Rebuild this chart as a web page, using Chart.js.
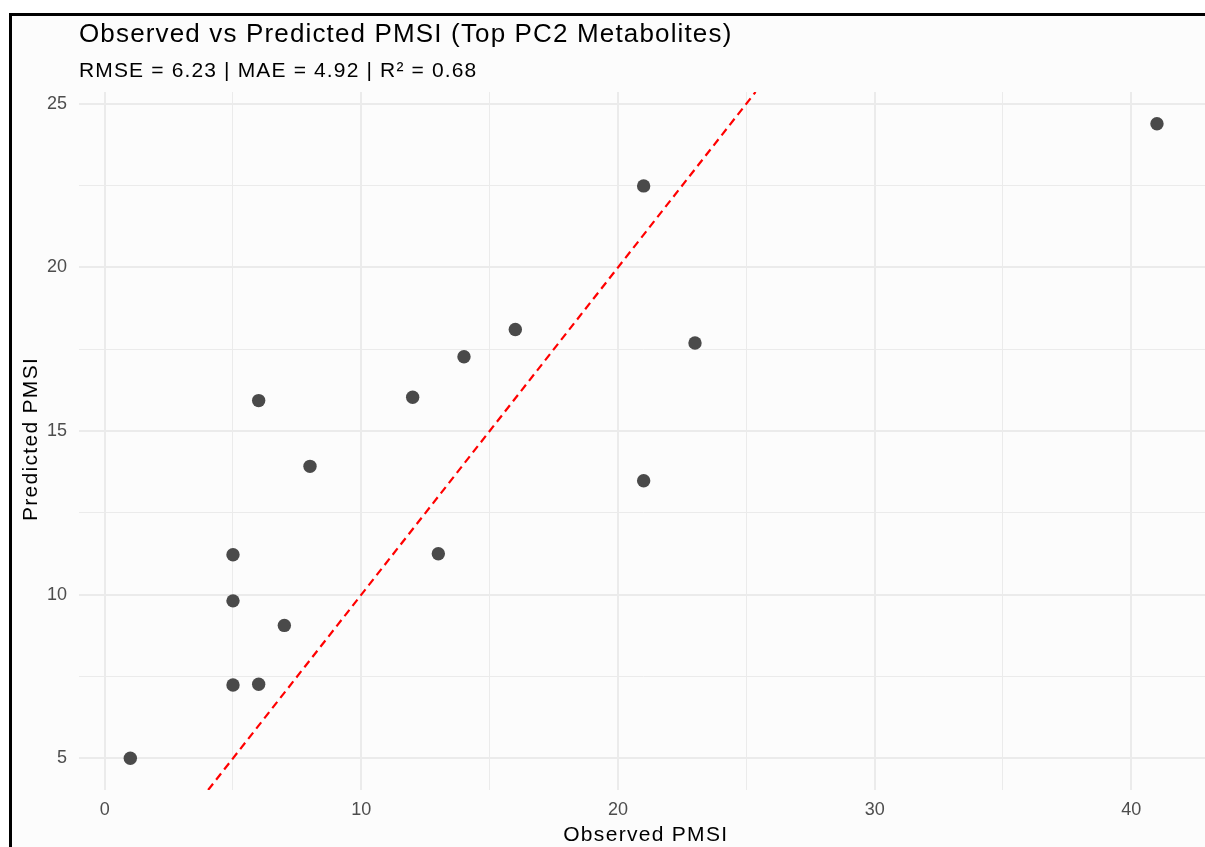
<!DOCTYPE html>
<html>
<head>
<meta charset="utf-8">
<script src="https://cdn.jsdelivr.net/npm/chart.js@4.4.1/dist/chart.umd.min.js"></script>
<style>
  html, body { margin: 0; padding: 0; background: #ffffff; overflow: hidden; }
  body { width: 1205px; height: 847px; position: relative; font-family: "Liberation Sans", Arial, sans-serif; }
  .frame { position: absolute; left: 9px; top: 13px; right: -10px; bottom: -10px; background: #fcfcfc;
           border-top: 3px solid #000; border-left: 3px solid #000; }
  #chart { position: absolute; left: 0; top: 0; }
  .title { position: absolute; left: 79px; top: 20px; font-size: 26px; line-height: 1; color: #000;
           white-space: nowrap; letter-spacing: 1.15px; }
  .subtitle { position: absolute; left: 79px; top: 59px; font-size: 21px; line-height: 1; color: #000;
              white-space: nowrap; letter-spacing: 1.15px; }
  .xtitle { position: absolute; left: 79px; width: 1131px; top: 823px; font-size: 21px; line-height: 1;
            text-align: center; color: #000; white-space: nowrap; letter-spacing: 1.3px; padding-left: 1.3px; }
  .ytitle { position: absolute; left: 19px; top: 90px; height: 698px; font-size: 21px; line-height: 1;
            writing-mode: vertical-rl; transform: rotate(180deg); text-align: center; color: #000;
            white-space: nowrap; letter-spacing: 1.3px; }
</style>
</head>
<body>
<div class="frame"></div>
<canvas id="chart" width="1215" height="847"></canvas>
<div class="title">Observed vs Predicted PMSI (Top PC2 Metabolites)</div>
<div class="subtitle">RMSE = 6.23 | MAE = 4.92 | R² = 0.68</div>
<div class="xtitle">Observed PMSI</div>
<div class="ytitle">Predicted PMSI</div>
<script>
// observed vs predicted values
const observed  = [1, 5, 5, 5, 6, 6, 7, 8, 12, 13, 14, 16, 21, 21, 23, 41];
const predicted = [5.0, 11.22, 9.81, 7.24, 7.26, 15.93, 9.06, 13.92, 16.03, 11.25, 17.27, 18.10, 22.49, 13.48, 17.69, 24.39];

const xTickLabels = [0, 10, 20, 30, 40];
const yTickLabels = [5, 10, 15, 20, 25];

// y = x reference line
const refIntercept = 0;
const refSlope = 1;

const pointColor = '#4a4a4a';
const gridColor = '#ebebeb';
const tickColor = '#4d4d4d';

// ggplot style 5% expansion
function expand(vals){
    const lo = Math.min(...vals), hi = Math.max(...vals);
    const pad = (hi - lo) * 0.05;
    return [lo - pad, hi + pad];
}
const [xMin, xMax] = expand(observed);
const [yMin, yMax] = expand(predicted);

const points = observed.map((x, i) => ({x: x, y: predicted[i]}));

const x0 = Math.max(xMin, (yMin - refIntercept) / refSlope);
const x1 = Math.min(xMax, (yMax - refIntercept) / refSlope);
const refLine = [x0, x1].map(x => ({x: x, y: refIntercept + refSlope * x}));

function stepTicks(min, max, step){
    const out = [];
    for (let v = Math.ceil(min / step) * step; v <= max + 1e-9; v += step) out.push({value: v});
    return out;
}

const isMajorX = v => xTickLabels.includes(v);
const isMajorY = v => yTickLabels.includes(v);

new Chart(document.getElementById('chart'), {
    type: 'scatter',
    data: {
        datasets: [
            {
                type: 'line',
                data: refLine,
                borderColor: '#ff0000',
                borderWidth: 2.2,
                borderDash: [8, 5],
                pointRadius: 0,
                fill: false,
                order: 2
            },
            {
                data: points,
                backgroundColor: pointColor,
                borderWidth: 0,
                pointRadius: 6.7,
                pointHoverRadius: 6.7,
                order: 1
            }
        ]
    },
    options: {
        responsive: false,
        animation: false,
        layout: { padding: { top: 92, right: 5, bottom: 0, left: 0 } },
        plugins: {
            legend: { display: false },
            tooltip: { enabled: false }
        },
        scales: {
            x: {
                type: 'linear',
                min: xMin,
                max: xMax,
                afterBuildTicks: s => { s.ticks = stepTicks(s.min, s.max, 5); },
                afterFit: s => { s.height = 57; },
                border: { display: false },
                grid: {
                    drawTicks: false,
                    color: gridColor,
                    lineWidth: c => isMajorX(c.tick.value) ? 2 : 1
                },
                ticks: {
                    autoSkip: false,
                    maxRotation: 0,
                    padding: 9,
                    color: tickColor,
                    font: { family: 'Liberation Sans', size: 18 },
                    callback: v => isMajorX(v) ? String(v) : ''
                }
            },
            y: {
                type: 'linear',
                min: yMin,
                max: yMax,
                afterBuildTicks: s => { s.ticks = stepTicks(s.min, s.max, 2.5); },
                afterFit: s => { s.width = 79; },
                border: { display: false },
                grid: {
                    drawTicks: false,
                    color: gridColor,
                    lineWidth: c => isMajorY(c.tick.value) ? 2 : 1
                },
                ticks: {
                    autoSkip: false,
                    padding: 12,
                    color: tickColor,
                    font: { family: 'Liberation Sans', size: 18 },
                    callback: v => isMajorY(v) ? String(v) : ''
                }
            }
        }
    }
});
</script>
</body>
</html>
